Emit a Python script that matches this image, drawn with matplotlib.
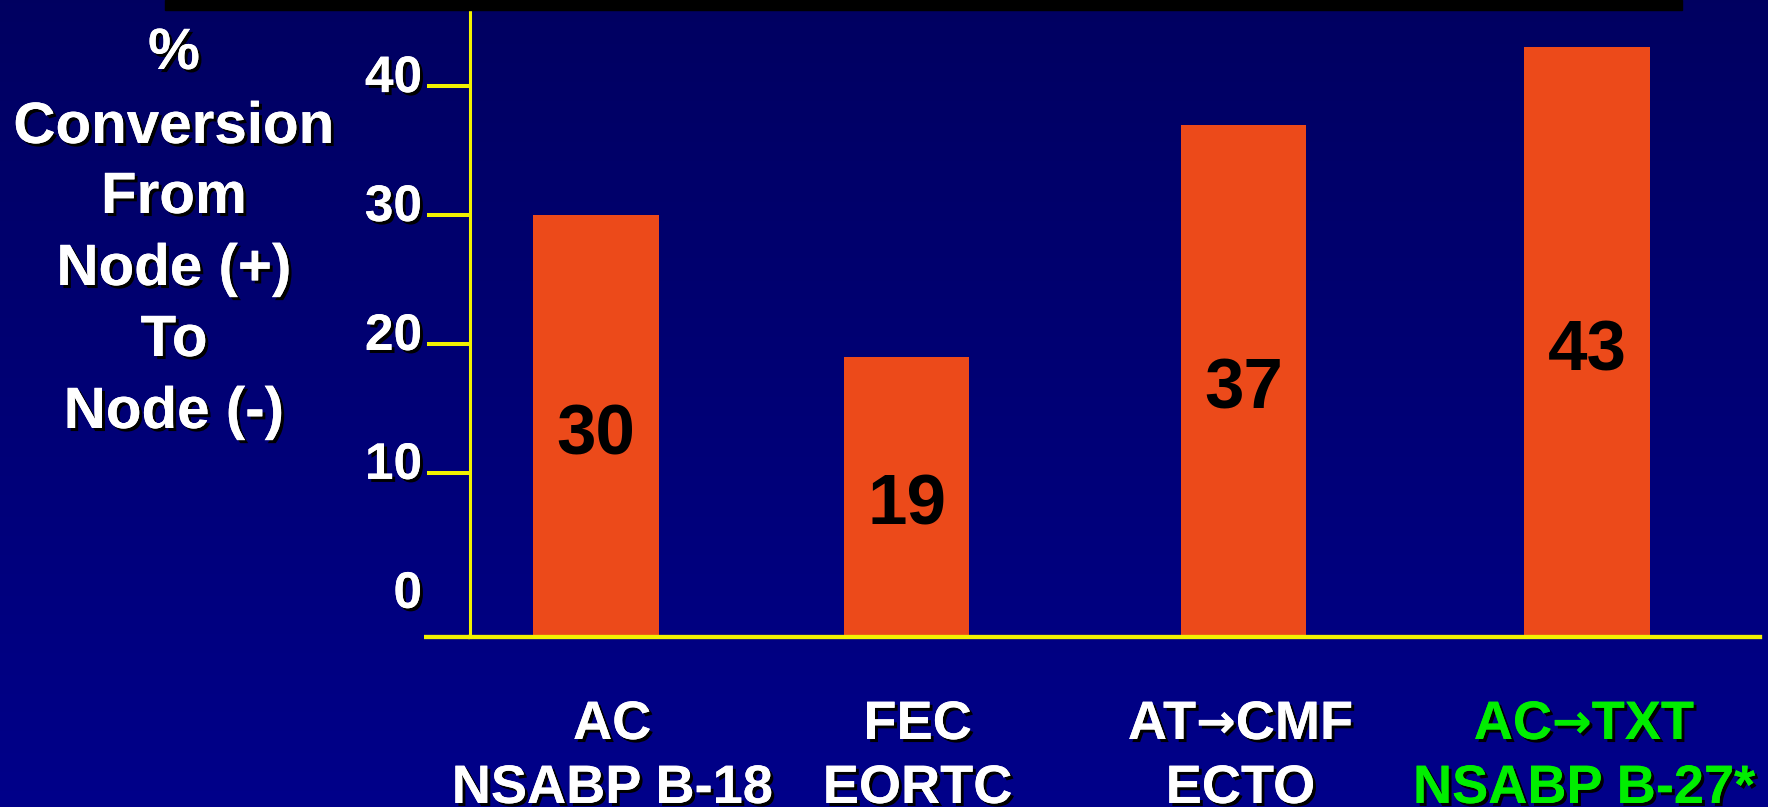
import numpy as np
import matplotlib
matplotlib.use("Agg")
import matplotlib.pyplot as plt
import matplotlib.patheffects as pe
from matplotlib.lines import Line2D
from matplotlib.patches import Rectangle
from matplotlib.transforms import ScaledTranslation, blended_transform_factory

plt.rcParams["font.family"] = ["Liberation Sans", "DejaVu Sans"]
plt.rcParams["font.weight"] = "bold"

# conversion rates per regimen / trial
regimens = ["AC", "FEC", "AT\u2192CMF", "AC\u2192TXT"]
trials = ["NSABP B-18", "EORTC", "ECTO", "NSABP B-27*"]
conversion = [30, 19, 37, 43]
label_colors = ["white", "white", "white", "#00ee00"]

yticks = [0, 10, 20, 30, 40]
ylabel_lines = ["%", "Conversion", "From", "Node (+)", "To", "Node (-)"]

# layout (pixels on a 1768 x 807 canvas)
W, H = 1768, 807
slot = [0, 0.94, 1.96, 3.0]
label_shift = [16, 11, -3, -3]
ymin, ymax = -2.73, 45.9
bar_color = "#ec4a1a"
yellow = "#f2f200"
shadow = [pe.withSimplePatchShadow(offset=(2.2, -2.2), shadow_rgbFace="black", alpha=1.0), pe.Normal()]


def px(dx, dy=0):
    return ScaledTranslation(dx / 100, dy / 100, fig.dpi_scale_trans)


fig = plt.figure(figsize=(W / 100, H / 100), dpi=100)

# navy background, a little brighter towards the bottom
bg = fig.add_axes([0, 0, 1, 1], zorder=-10)
grad = np.linspace(0, 1, 256).reshape(-1, 1)
top, bottom = np.array([0, 0, 0.38]), np.array([0, 0, 0.54])
img = top + (bottom - top) * grad[:, :, None]
bg.imshow(img, aspect="auto", extent=[0, 1, 0, 1])
bg.set_axis_off()

# black strip left over from the slide title
fig.patches.append(Rectangle((165 / W, 1 - 10 / H), (1682 - 165) / W, 10 / H,
                             transform=fig.transFigure, color="black", zorder=5))

ax = fig.add_axes([470 / W, (H - 637) / H, (1760 - 470) / W, (637 - 10) / H])
ax.patch.set_alpha(0)
ax.set_xlim(-0.382, 3.524)
ax.set_ylim(ymin, ymax)

# bars stand on the axis floor and reach up to their value
heights = np.array(conversion) - ymin
ax.bar(slot, heights, bottom=ymin, width=0.38, color=bar_color, zorder=2)

for x, v in zip(slot, conversion):
    ax.text(x, (v + ymin) / 2, str(v), ha="center", va="center", fontsize=51,
            fontweight="bold", color="black", zorder=3,
            transform=ax.transData + px(0, -10))

for side in ["top", "right"]:
    ax.spines[side].set_visible(False)
ax.spines["left"].set_color(yellow)
ax.spines["left"].set_linewidth(2.2)
ax.spines["bottom"].set_color(yellow)
ax.spines["bottom"].set_linewidth(3.1)
# floor line runs a bit past the vertical axis
ax.add_line(Line2D([-46 / 1290, 0], [0, 0], transform=ax.transAxes, color=yellow,
                   lw=3.1, clip_on=False, solid_capstyle="butt"))

ax.set_xticks([])
ax.set_yticks(yticks)
ax.set_yticklabels([str(t) for t in yticks])
ax.tick_params(axis="y", direction="out", length=31, width=2.9, color=yellow,
               pad=3.5, labelsize=37, labelcolor="white")
ax.yaxis.get_major_ticks()[0].tick1line.set_visible(False)
for lab in ax.get_yticklabels():
    lab.set_transform(lab.get_transform() + px(0, 13))
    lab.set_fontweight("bold")
    lab.set_path_effects(shadow)

# stacked axis title on the left
ylab_y = [54, 128, 198, 270, 341, 413]
for line, yy in zip(ylabel_lines, ylab_y):
    fig.text(174 / W, 1 - yy / H, line, ha="center", va="center", fontsize=42,
             fontweight="bold", color="white", path_effects=shadow)

# category labels under the bars; the arrow is set in DejaVu Sans Bold
tr = blended_transform_factory(ax.transData, fig.transFigure)
renderer = fig.canvas.get_renderer()


def centered_label(x, y, s, color, shift):
    pieces = []
    for i, part in enumerate(s.split("\u2192")):
        if i > 0:
            pieces.append(("\u2192", ["DejaVu Sans"], 34))
        pieces.append((part, ["Liberation Sans", "DejaVu Sans"], 39))
    texts, widths = [], []
    for part, fam, size in pieces:
        t = ax.text(x, y, part, transform=tr, ha="left", va="center", fontsize=size,
                    family=fam, fontweight="bold", color=color,
                    path_effects=shadow, clip_on=False)
        texts.append(t)
        widths.append(t.get_window_extent(renderer).width)
    start = shift - sum(widths) / 2
    for t, w in zip(texts, widths):
        t.set_transform(tr + px(start))
        start += w


for x, reg, trial, c, sh in zip(slot, regimens, trials, label_colors, label_shift):
    centered_label(x, 1 - 725 / H, reg, c, sh)
    centered_label(x, 1 - 789 / H, trial, c, sh)

fig.savefig("out.png", dpi=100)
